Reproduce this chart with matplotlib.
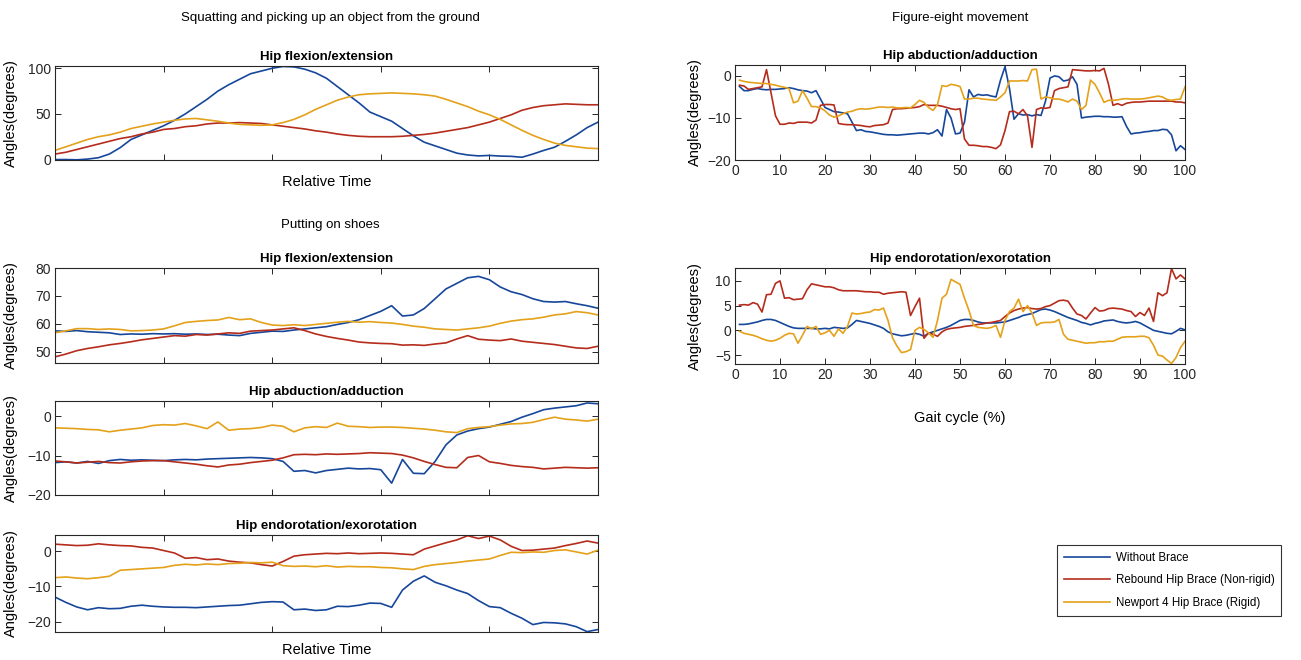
import numpy as np
import matplotlib
matplotlib.use("Agg")
import matplotlib.pyplot as plt

plt.rcParams['font.family'] = ['Liberation Sans', 'DejaVu Sans']

#series names and colours
labels = ["Without Brace", "Rebound Hip Brace (Non-rigid)", "Newport 4 Hip Brace (Rigid)"]
colors = ["#17479a", "#b52c1c", "#e4a11a"]

#relative time grid (left column) and gait cycle grid (right column)
rel_time = np.linspace(0, 100, 51)
gait = np.arange(1, 101)

#squatting - hip flexion/extension
squat_flex_none = [0, 0, -0.3, 0.5, 2, 6, 13, 22, 27, 32, 37, 43, 50, 58, 66, 75, 82, 88, 94, 97,
                   100, 102, 101.5, 99, 95, 89, 80, 71, 62, 52, 47, 42, 34, 26, 19, 15, 11, 7, 5, 4,
                   4.5, 3.8, 3.5, 2.5, 6, 10, 13.5, 20, 27, 35, 41]
squat_flex_soft = [6, 8, 11, 14, 17, 20, 23, 25, 28, 30, 33, 34, 36, 37, 39, 40, 40, 40.5, 40, 39.5,
                   38, 36.5, 35, 33.5, 31.5, 30, 28, 26.5, 25.5, 25, 25, 25, 25.5, 26.5, 27.5, 29, 31, 33, 35, 38,
                   41, 45, 49, 54, 57, 59, 60, 61, 60.5, 60, 60]
squat_flex_rigid = [10, 14, 18, 22, 25, 27, 30, 34, 36.5, 39, 41, 43, 44.5, 45, 43.5, 42, 40, 38.5, 38, 37.5,
                    38, 40.5, 44, 49, 55, 60, 65, 68.5, 71, 72, 72.5, 73, 72.5, 72, 71, 69.5, 66, 62, 58, 53,
                    49, 44, 38, 32, 26.5, 22, 18, 15.5, 14, 12.5, 12]

#putting on shoes - hip flexion/extension
shoe_flex_none = [57.5, 57.3, 57.6, 57.2, 57, 56.8, 56.2, 56.4, 56.3, 56.5, 56.4, 56.5, 56.3, 56.4, 56.2, 56.3, 56, 55.8, 56.6, 57,
                  57.4, 57.3, 57.8, 58.2, 58.6, 59, 59.8, 60.5, 61.5, 63, 64.5, 66.5, 62.8, 63.2, 65.5, 69, 72.5, 74.5, 76.5, 77,
                  75.8, 73.2, 71.5, 70.5, 69, 68, 67.8, 68, 67.2, 66.5, 65.6]
shoe_flex_soft = [48.2, 49.2, 50.4, 51.2, 51.8, 52.5, 53, 53.6, 54.3, 54.8, 55.3, 55.8, 55.6, 56.2, 56, 56.4, 56.8, 56.6, 57.4, 57.6,
                  57.8, 58.2, 58.6, 57.6, 56.4, 55.5, 54.8, 54.2, 53.5, 53.2, 53, 52.9, 52.4, 52.5, 52.3, 52.8, 53.2, 54.6, 55.8, 54.5,
                  54.2, 54, 54.6, 53.8, 53.4, 53, 52.6, 52, 51.4, 51.2, 52]
shoe_flex_rigid = [56.8, 57.5, 58.3, 58.3, 58, 58.2, 58, 57.5, 57.6, 57.8, 58.2, 59.3, 60.5, 60.9, 61.2, 61.4, 62.3, 61.5, 61.8, 60.5,
                   59.6, 59.4, 59.7, 59.4, 59.8, 60.2, 60.6, 60.9, 60.6, 60.8, 60.5, 60.3, 59.8, 59.2, 58.8, 58.2, 58, 57.8, 58.2, 58.6,
                   59.2, 60.2, 61, 61.5, 61.8, 62.4, 63.2, 63.6, 64.4, 64, 63.2]

#putting on shoes - hip abduction/adduction
shoe_abd_none = [-11.8, -11.6, -11.9, -11.5, -12, -11.3, -11, -11.2, -11.1, -11.2, -11.3, -11.1, -11, -11.1, -10.9, -10.8, -10.7, -10.6, -10.5, -10.6,
                 -10.8, -11.5, -14, -13.8, -14.4, -13.8, -13.5, -13.2, -13.4, -13.3, -13.6, -17, -11, -14.5, -14.6, -11.5, -7.3, -4.8, -3.8, -3.2,
                 -2.8, -2.1, -1.4, -0.3, 0.6, 1.6, 2, 2.3, 2.6, 3.3, 3.1]
shoe_abd_soft = [-11.4, -11.6, -11.9, -11.7, -11.5, -11.8, -11.9, -11.6, -11.4, -11.3, -11.3, -11.6, -11.9, -12.2, -12.6, -12.9, -12.4, -12.2, -11.8, -11.5,
                 -11.2, -10.6, -9.8, -9.7, -9.8, -9.6, -9.7, -9.6, -9.5, -9.3, -9.4, -9.5, -9.9, -10.6, -11.5, -12.3, -13, -13.1, -10.5, -10,
                 -11.6, -12, -12.5, -12.8, -13, -13.4, -13.2, -13, -13.1, -13.2, -13.1]
shoe_abd_rigid = [-3, -3.1, -3.2, -3.4, -3.5, -4, -3.6, -3.3, -3, -2.4, -2.2, -2.3, -1.9, -2.5, -3.2, -1.5, -3.6, -3.3, -3.2, -2.9,
                  -2.3, -2.6, -4, -3, -2.7, -2.9, -1.8, -2.6, -2.7, -2.9, -2.8, -2.8, -2.9, -3.1, -3.3, -3.6, -4, -4.2, -3.2, -2.9,
                  -2.7, -2.3, -2, -1.9, -1.6, -0.9, -0.3, -0.8, -1, -1.3, -0.8]

#putting on shoes - hip endorotation/exorotation
shoe_rot_none = [-13, -14.5, -15.8, -16.6, -16, -16.3, -16.2, -15.6, -15.3, -15.6, -15.8, -15.9, -15.9, -16, -15.8, -15.6, -15.4, -15.3, -14.9, -14.5,
                 -14.3, -14.4, -16.6, -16.4, -16.8, -16.6, -15.6, -15.7, -15.3, -14.7, -14.8, -15.9, -11, -8.5, -7, -8.8, -9.8, -11, -12, -14,
                 -15.7, -16, -17.6, -19, -20.8, -20.2, -20.3, -20.6, -21.4, -22.8, -22.2]
shoe_rot_soft = [2, 1.8, 1.6, 1.7, 2.1, 1.8, 1.6, 1.5, 1.1, 0.9, 0.2, -0.5, -2, -1.8, -2.4, -2.2, -2.8, -3.1, -3.3, -3.8,
                 -4.2, -2.9, -1.4, -1, -0.8, -0.6, -0.7, -0.5, -0.7, -0.6, -0.5, -0.6, -0.8, -1, 0.6, 1.5, 2.4, 3.2, 4.4, 3.6,
                 4.3, 3.2, 1.4, 0.2, 0.3, 0.6, 0.9, 1.6, 2.2, 2.9, 2.3]
shoe_rot_rigid = [-7.5, -7.3, -7.6, -7.8, -7.5, -7.1, -5.4, -5.2, -5, -4.8, -4.6, -4, -3.7, -3.9, -3.6, -3.8, -3.5, -3.4, -3.2, -3.3,
                  -3.1, -4.1, -4.3, -4.2, -4.4, -4.1, -4.5, -4.3, -4.4, -4.4, -4.6, -4.7, -5, -5.2, -4.3, -3.8, -3.5, -3.2, -2.8, -2.5,
                  -2.2, -1.2, -0.3, -0.4, -0.2, -0.3, 0.2, 0.4, -0.2, -0.8, 0.3]

#figure-eight - hip abduction/adduction
eight_abd_none = [-2.5, -3.5, -3.5, -3.2, -3.0, -3.2, -3.3, -3.2, -3.2, -3.1,
                  -3.0, -2.8, -3.0, -3.3, -3.5, -3.6, -4.0, -3.5, -5.5, -7.5,
                  -8, -8.5, -8.6, -8.8, -9, -11, -13, -12.8, -13.2, -13.3,
                  -13.5, -13.7, -13.9, -14, -14, -14.1, -14, -13.9, -13.8, -13.7,
                  -13.6, -13.6, -13.8, -13.5, -12.8, -14.3, -8, -10, -13.8, -13.6,
                  -11, -3.3, -5, -4.4, -4.6, -4.5, -4.8, -5, -1, 2.2,
                  -3, -10.3, -9, -9.3, -9.2, -9.5, -9.2, -9.4, -6, -0.5,
                  0, -0.2, -1.2, -1, -0.2, -2, -10, -9.8, -9.7, -9.6,
                  -9.6, -9.7, -9.7, -9.8, -9.8, -9.7, -12, -13.8, -13.6, -13.5,
                  -13.3, -13.2, -13, -13, -12.7, -12.8, -14, -17.8, -16.6, -17.5]
eight_abd_soft = [-2.2, -2.4, -3.2, -3, -2.8, -2.6, 1.5, -4, -9.5, -11.5,
                  -11.5, -11.2, -11.3, -11, -11, -11, -11.2, -10.5, -7, -6.8,
                  -6.8, -6.9, -11.3, -11.5, -11.6, -11.6, -11.7, -11.8, -12, -12.1,
                  -11.8, -11.7, -11.6, -11.2, -8, -7.8, -7.8, -7.7, -7.6, -7.5,
                  -7.3, -6.8, -7, -7, -7, -7.2, -7.5, -7.8, -8, -7.8,
                  -15, -16.5, -16.5, -16.6, -16.8, -16.8, -17, -17.3, -16.4, -13,
                  -8.5, -8.4, -9, -8, -9.5, -17, -8, -7.6, -7.7, -7.5,
                  -3.5, -3, -2.8, -2.6, 1.5, 1.4, 1.3, 1.2, 1.2, 1.3,
                  1.2, 1.8, -2, -7, -6.6, -7, -6.5, -6.3, -6.2, -6.2,
                  -6.1, -6, -6, -6, -6, -6, -6, -6.2, -6.2, -6.4]
eight_abd_rigid = [-1, -1.3, -1.5, -1.6, -1.7, -1.8, -1.8, -2, -2.2, -2.5,
                   -2.7, -3, -6.4, -6, -3.5, -5.3, -7.3, -7.3, -7.6, -8.3,
                   -9.3, -9.8, -9.5, -9, -8.6, -8.4, -8, -7.8, -7.9, -7.8,
                   -7.6, -7.4, -7.4, -7.5, -7.4, -7.6, -7.6, -7.5, -7.6, -6.8,
                   -5.8, -6.3, -7.5, -8.2, -6.8, -2.3, -2.5, -2, -2.2, -2.5,
                   -5.5, -5.5, -5.3, -5.3, -5.5, -5.6, -5.7, -5.8, -5, -4,
                   -1.2, -1.2, -1.2, -1.1, -1.2, 1.5, 1.6, -5.5, -5, -5.2,
                   -5.5, -5.5, -5.8, -6.2, -5.5, -6, -8, -7, -1, -2,
                   -4, -6.3, -5.8, -5.8, -5.7, -5.5, -5.4, -5.5, -5.5, -5.5,
                   -5.4, -5.2, -5, -4.8, -5, -5.6, -5.8, -5.6, -5.5, -2.6]

#figure-eight - hip endorotation/exorotation
eight_rot_none = [1.2, 1.2, 1.3, 1.5, 1.7, 2, 2.2, 2.2, 2, 1.6,
                  1.2, 0.8, 0.5, 0.4, 0.4, 0.4, 0.4, 0.3, 0.3, 0.4,
                  0.3, 0.6, 0.5, 0.4, 0.5, 1.2, 2, 1.8, 1.6, 1.4,
                  1.1, 0.8, 0.4, -0.3, -0.7, -0.9, -1.1, -1, -0.8, -0.6,
                  -0.8, -1.2, -0.6, -0.3, 0, 0.3, 0.6, 1, 1.5, 2,
                  2.2, 2.2, 2, 1.7, 1.5, 1.5, 1.5, 1.5, 1.6, 1.7,
                  2, 2.3, 2.6, 3, 3.2, 3.4, 3.8, 4.2, 4.3, 4.1,
                  3.8, 3.4, 3, 2.6, 2.3, 2, 1.6, 1.4, 1.1, 1.4,
                  1.6, 1.9, 2, 2.1, 1.8, 1.6, 1.5, 1.6, 1.8, 1.5,
                  1, 0.5, 0, -0.2, -0.4, -0.6, -0.7, -0.2, 0.4, 0.1]
eight_rot_soft = [5.1, 5.2, 5.1, 5.6, 5.3, 3.7, 7.2, 7.3, 9.5, 10,
                  6.5, 6.6, 6.2, 6.3, 6.4, 8.2, 9.4, 9.2, 9, 8.8,
                  8.8, 8.6, 8.2, 8, 8, 8, 8, 7.9, 7.8, 7.8,
                  7.7, 7.7, 7.3, 7.5, 7.6, 7.7, 7.8, 7.7, 3, 4.8,
                  6.5, -1.6, -0.5, -0.8, -1.2, -0.3, 0.2, 0.4, 0.5, 0.6,
                  0.8, 0.9, 1, 1.2, 1.3, 1.5, 1.6, 1.8, 2, 2.8,
                  3.5, 4, 4.3, 4.5, 4.6, 4.4, 4.3, 4.4, 4.8, 5,
                  5.5, 6, 6.1, 5.9, 4.5, 3.3, 3, 2.3, 3.5, 4.6,
                  3.9, 4, 4.4, 4.5, 4.4, 4.3, 4, 3.8, 2.8, 3.6,
                  3, 4.5, 1.8, 7.6, 7, 7.6, 12.5, 10.4, 11.2, 10.4]
eight_rot_rigid = [-0.2, -0.6, -0.8, -1, -1.3, -1.7, -2, -2.2, -2, -1.6,
                   -1, -0.6, -0.7, -2.6, -1, 0.8, 0.3, 0.8, -0.8, -0.5,
                   0, -1.2, 0.3, -0.6, 0.8, 3.5, 3.3, 3.4, 3.6, 3.7,
                   4.2, 4.1, 4.5, 2, -1.5, -3.2, -4.5, -4.3, -3.9, 0,
                   0.6, 0.2, -0.5, -1.4, 2, 6.5, 7.3, 10.3, 9.8, 9.3,
                   6.5, 4, 1, 0.6, 0.5, 0.4, 0.6, 1, -1.4, 2,
                   3.8, 4.5, 6.3, 3.8, 5, 3.5, 1, 1.5, 1.6, 1.6,
                   1.7, 2.2, -0.8, -1.8, -2, -2.2, -2.4, -2.6, -2.5, -2.5,
                   -2.3, -2.3, -2.2, -2.2, -1.8, -1.4, -1.3, -1.3, -1.3, -1.2,
                   -1.2, -1.5, -3, -5, -5.2, -6, -6.7, -5.5, -3.5, -2.2]

#axis limits / ticks per panel
ylims = {"A": (-0.5, 102.5), "B": (46, 80), "C": (-20, 3.8), "D": (-22.9, 4.6),
         "E": (-20, 2.6), "F": (-6.8, 12.6)}
yticks = {"A": [0, 50, 100], "B": [50, 60, 70, 80], "C": [-20, -10, 0], "D": [-20, -10, 0],
          "E": [-20, -10, 0], "F": [-5, 0, 5, 10]}

W, H = 1301, 660
fig = plt.figure(figsize=(W/100, H/100), dpi=100)

def px_axes(l, r, t, b):
    #axes from pixel box
    return fig.add_axes([l/W, 1-b/H, (r-l)/W, (b-t)/H])

def style(ax, key, title, left_col):
    ax.set_xlim(0, 100)
    ax.set_ylim(*ylims[key])
    ax.set_yticks(yticks[key])
    ax.set_xticks(np.arange(0, 101, 20) if left_col else np.arange(0, 101, 10))
    ax.tick_params(direction='in', top=True, right=True, length=4, width=0.7,
                   labelsize=10, colors='#262626', pad=3)
    if left_col:
        ax.tick_params(labelbottom=False)
    for s in ax.spines.values():
        s.set_linewidth(0.8)
        s.set_color('#262626')
    ax.set_title(title, fontsize=9.5, fontweight='bold', pad=4)
    ax.set_ylabel("Angles(degrees)", fontsize=10.5)
    if left_col:
        ax.yaxis.set_label_coords((18-55)/543, 0.5)
    else:
        ax.yaxis.set_label_coords((702-735)/450, 0.5)

def draw(ax, x, series):
    for y, c in zip(series, colors):
        ax.plot(x, y, color=c, lw=1.2)

axA = px_axes(55, 598, 66, 160)
draw(axA, rel_time, [squat_flex_none, squat_flex_soft, squat_flex_rigid])
style(axA, "A", "Hip flexion/extension", True)
axA.set_xlabel("Relative Time", fontsize=10.5, labelpad=11)

axB = px_axes(55, 598, 268, 363)
draw(axB, rel_time, [shoe_flex_none, shoe_flex_soft, shoe_flex_rigid])
style(axB, "B", "Hip flexion/extension", True)

axC = px_axes(55, 598, 401, 495)
draw(axC, rel_time, [shoe_abd_none, shoe_abd_soft, shoe_abd_rigid])
style(axC, "C", "Hip abduction/adduction", True)

axD = px_axes(55, 598, 535, 632)
draw(axD, rel_time, [shoe_rot_none, shoe_rot_soft, shoe_rot_rigid])
style(axD, "D", "Hip endorotation/exorotation", True)
axD.set_xlabel("Relative Time", fontsize=10.5, labelpad=8)

axE = px_axes(735, 1185, 65, 160)
lines = []
for y, c, lab in zip([eight_abd_none, eight_abd_soft, eight_abd_rigid], colors, labels):
    ln, = axE.plot(gait, y, color=c, lw=1.2, label=lab)
    lines.append(ln)
style(axE, "E", "Hip abduction/adduction", False)

axF = px_axes(735, 1185, 268, 364)
draw(axF, gait, [eight_rot_none, eight_rot_soft, eight_rot_rigid])
style(axF, "F", "Hip endorotation/exorotation", False)
axF.set_xlabel("Gait cycle (%)", fontsize=10.5, labelpad=21)

#group headings
fig.text(330/W, 1-18/H, "Squatting and picking up an object from the ground", fontsize=9.5,
         ha='center', va='center')
fig.text(960/W, 1-18/H, "Figure-eight movement", fontsize=9.5, ha='center', va='center')
fig.text(330/W, 1-225/H, "Putting on shoes", fontsize=9.5, ha='center', va='center')

leg = fig.legend(lines, labels, loc='upper left', bbox_to_anchor=(1057/W, 1-545/H),
                 fontsize=8.3, frameon=True, fancybox=False, edgecolor='black',
                 handlelength=4.0, handletextpad=0.5, labelspacing=0.9,
                 borderaxespad=0, borderpad=0.6)
leg.get_frame().set_linewidth(0.8)

fig.savefig("out.png", dpi=100)
